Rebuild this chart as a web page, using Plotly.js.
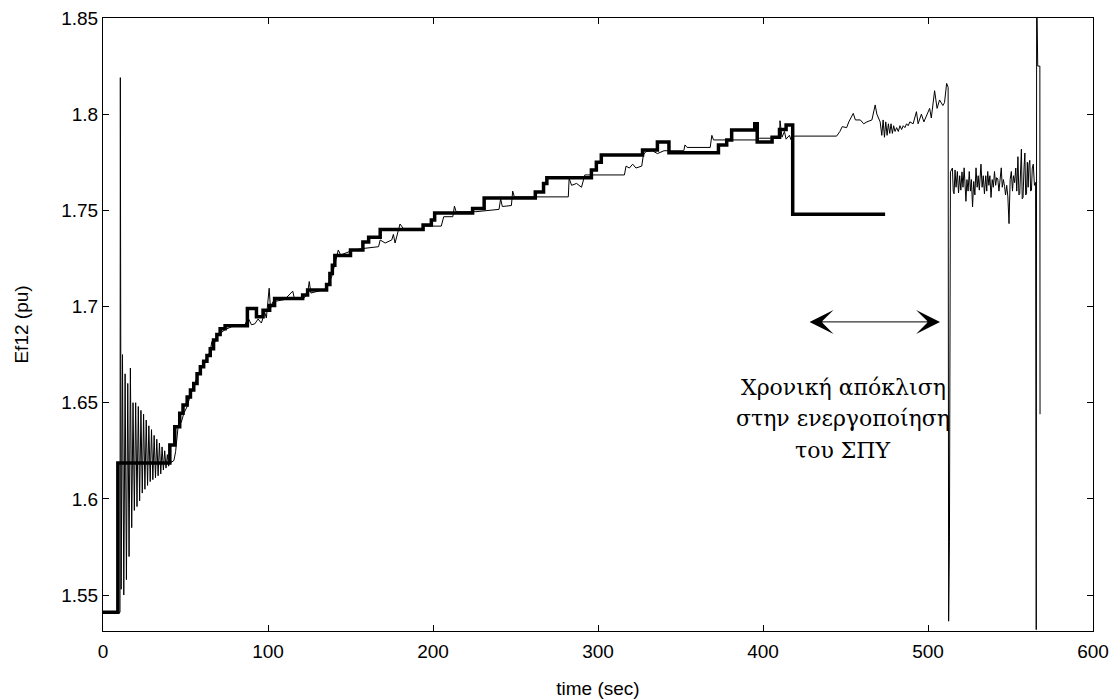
<!DOCTYPE html>
<html>
<head>
<meta charset="utf-8">
<script src="https://cdn.plot.ly/plotly-3.0.1.min.js"></script>
<style>html,body{margin:0;padding:0;background:#fff;}#chart{width:1115px;height:700px;}</style>
</head>
<body>
<div id="chart"></div>
<script>
// Thick line: step breakpoints (time, Ef12)
var refTime = [0, 9, 40.5, 43.5, 46.5, 48.5, 51, 53, 55, 57, 59, 61, 63, 65, 67, 69, 71, 74, 87.5, 93, 97, 101, 104, 121, 124, 135.5, 137.5, 139, 140.5, 150, 157.5, 161, 168, 194, 199, 201, 224, 231, 262, 267, 269, 296, 299, 302, 327, 336, 343, 373, 378, 381, 395, 396.5, 405.5, 410, 414, 418, 474];
var refValue = [1.541, 1.6186, 1.628, 1.6375, 1.6445, 1.6488, 1.653, 1.6566, 1.660, 1.665, 1.6687, 1.6716, 1.6745, 1.678, 1.6826, 1.6855, 1.6885, 1.690, 1.699, 1.6947, 1.698, 1.7005, 1.7042, 1.706, 1.7086, 1.7115, 1.7172, 1.7215, 1.7265, 1.7294, 1.7335, 1.736, 1.740, 1.7424, 1.745, 1.7486, 1.751, 1.7564, 1.7595, 1.764, 1.767, 1.771, 1.775, 1.7788, 1.7814, 1.7855, 1.780, 1.784, 1.7866, 1.7918, 1.795, 1.7855, 1.788, 1.792, 1.7944, 1.748, 1.748];

// Thin line: simulated response (time, Ef12)
var simTime = [0, 10.3, 10.5, 10.7, 11.0, 11.8, 12.6, 13.4, 14.2, 15.0, 15.8, 16.6, 17.4, 18.2, 19.0, 19.8, 20.6, 21.4, 22.2, 23.0, 23.8, 24.6, 25.4, 26.2, 27.0, 27.8, 28.6, 29.4, 30.2, 31.0, 31.8, 32.6, 33.4, 34.2, 35.0, 35.8, 36.6, 37.4, 38.2, 39.0, 39.8, 40.6, 41.5,
  43, 44, 45.5, 47.5, 49, 51, 53, 55, 57, 59, 61, 63, 65, 66, 67, 69, 71, 74, 78, 86, 88, 90, 92, 94, 96, 98, 99, 100.7, 101.5, 103, 110, 115, 116, 122, 124, 125, 126, 135, 138.6, 140.6, 142.6, 144, 150, 152, 158, 167, 168, 171, 175, 176, 177, 180, 182, 194, 195, 205, 206.5, 212, 213, 214, 226, 240, 241, 242, 247.5, 248.3, 249.3, 282, 282.5, 284, 287, 290, 292, 316, 317, 319, 321, 323, 326.5, 327.5, 329, 333, 336, 340, 352, 352.7, 354, 368, 369, 370, 396, 398, 410, 410.3, 411.5, 413, 414, 416, 417, 419, 444.6, 446.6, 448, 450.7, 452, 454.7, 456, 459, 461, 463, 466, 468, 469, 471,
  472, 472.8, 473.6, 474.4, 475.2, 476, 476.8, 477.6, 478.4, 479.2, 480, 481, 482, 483, 484, 485, 486, 487, 488, 489, 491, 493, 494, 496, 497.5, 499, 501, 502, 504, 505.5, 507, 509, 510, 511.3, 512.2, 512.5, 513.0, 513.6,
  514.8, 515.3, 515.8, 516.4, 517.0, 517.8, 518.5, 519.2, 519.9, 520.6, 521.2, 521.9, 522.5, 523.0, 523.6, 524.3, 525.0, 525.7, 526.3, 527.0, 527.7, 528.4, 529.1, 529.8, 530.4, 531.1, 532.1, 532.8, 533.5, 534.2, 535.0, 535.6, 536.2, 536.9, 537.5, 538.2, 538.9, 539.6, 540.3, 541.0, 541.6, 542.3, 543.0, 543.7, 544.4, 545.0, 545.7, 546.4, 547.0, 547.7, 548.4, 549.1, 549.8, 550.5, 551.2, 551.8, 552.5, 553.2, 553.8, 554.5, 555.1, 555.6, 556.1, 556.6, 557.1, 557.6, 558.2, 558.7, 559.2, 559.7, 560.2, 560.7, 561.2, 561.7, 562.2, 562.7, 563.2, 563.8, 564.5, 565.2,
  565.6, 565.85, 566.5, 567.8, 567.9];
var simValue = [1.541, 1.541, 1.819, 1.680, 1.553, 1.675, 1.550, 1.665, 1.558, 1.660, 1.570, 1.668, 1.585, 1.650, 1.594, 1.650, 1.596, 1.648, 1.599, 1.646, 1.603, 1.644, 1.605, 1.641, 1.607, 1.638, 1.609, 1.636, 1.610, 1.633, 1.611, 1.631, 1.612, 1.629, 1.613, 1.627, 1.615, 1.625, 1.616, 1.623, 1.617, 1.621, 1.619,
  1.620, 1.6245, 1.6375, 1.640, 1.6445, 1.648, 1.654, 1.658, 1.6635, 1.667, 1.670, 1.673, 1.677, 1.6818, 1.680, 1.684, 1.686, 1.688, 1.6895, 1.6905, 1.694, 1.6905, 1.691, 1.6935, 1.6914, 1.697, 1.694, 1.7095, 1.699, 1.7025, 1.7036, 1.708, 1.704, 1.7045, 1.7068, 1.713, 1.707, 1.709, 1.7155, 1.7224, 1.7294, 1.7268, 1.729, 1.7294, 1.7302, 1.7311, 1.7346, 1.733, 1.7346, 1.7375, 1.733, 1.7429, 1.7406, 1.7406, 1.7418, 1.7418, 1.7467, 1.7467, 1.7522, 1.7493, 1.7493, 1.7505, 1.756, 1.752, 1.7525, 1.760, 1.757, 1.757, 1.7667, 1.763, 1.764, 1.762, 1.7684, 1.7684, 1.773, 1.772, 1.774, 1.772, 1.773, 1.7788, 1.7805, 1.781, 1.7795, 1.781, 1.781, 1.784, 1.7827, 1.7827, 1.789, 1.7866, 1.7866, 1.7875, 1.7875, 1.7966, 1.788, 1.791, 1.787, 1.789, 1.7866, 1.7886, 1.7886, 1.791, 1.7935, 1.793, 1.796, 1.8004, 1.797, 1.797, 1.795, 1.796, 1.797, 1.8048, 1.800, 1.796,
  1.789, 1.797, 1.788, 1.796, 1.789, 1.795, 1.790, 1.795, 1.790, 1.794, 1.791, 1.793, 1.791, 1.794, 1.792, 1.794, 1.793, 1.795, 1.794, 1.796, 1.795, 1.8013, 1.795, 1.800, 1.796, 1.799, 1.803, 1.798, 1.8122, 1.803, 1.8074, 1.8045, 1.806, 1.816, 1.814, 1.5364, 1.578, 1.770,
  1.772, 1.760, 1.7586, 1.771, 1.762, 1.7702, 1.759, 1.768, 1.7605, 1.770, 1.762, 1.7721, 1.760, 1.7547, 1.766, 1.760, 1.7702, 1.760, 1.766, 1.7518, 1.765, 1.758, 1.7721, 1.762, 1.768, 1.7605, 1.7740, 1.762, 1.768, 1.7586, 1.768, 1.760, 1.7702, 1.763, 1.768, 1.7567, 1.766, 1.762, 1.7702, 1.763, 1.767, 1.7663, 1.760, 1.768, 1.7721, 1.762, 1.766, 1.7624, 1.758, 1.763, 1.757, 1.7431, 1.766, 1.7702, 1.760, 1.768, 1.7644, 1.772, 1.760, 1.7779, 1.758, 1.7586, 1.775, 1.7818, 1.756, 1.7567, 1.772, 1.7798, 1.758, 1.7586, 1.775, 1.762, 1.774, 1.7760, 1.760, 1.7605, 1.772, 1.7740, 1.763, 1.7645,
  1.532, 1.87, 1.825, 1.825, 1.644];

var xTicks = [0, 100, 200, 300, 400, 500, 600];
var yTicks = [1.55, 1.6, 1.65, 1.7, 1.75, 1.8, 1.85];
var xLabel = 'time (sec)';
var yLabel = 'Ef12 (pu)';
var noteLines = ['Χρονική απόκλιση', 'στην ενεργοποίηση', 'του ΣΠΥ'];
var noteLineY = [1.6581, 1.642, 1.6254];
var noteX = 448.5;
var arrowSpan = [427.3, 507.3];
var arrowLevel = 1.692;

var traces = [
  {x: simTime, y: simValue, type: 'scatter', mode: 'lines',
   line: {color: '#000', width: 1}, hoverinfo: 'skip'},
  {x: refTime, y: refValue, type: 'scatter', mode: 'lines',
   line: {color: '#000', width: 3.5, shape: 'hv'}, hoverinfo: 'skip'}
];

var axisCommon = {
  showgrid: false, zeroline: false, showline: true, linecolor: '#000', linewidth: 1,
  mirror: 'ticks', ticks: 'inside', ticklen: 6, tickcolor: '#000', tickwidth: 1,
  tickfont: {family: 'Liberation Sans, Arial, sans-serif', size: 19, color: '#000'}
};

var annotations = [
  {x: arrowSpan[1], y: arrowLevel, ax: arrowSpan[0], ay: arrowLevel, xref: 'x', yref: 'y', axref: 'x', ayref: 'y',
   text: '', showarrow: true, arrowside: 'end+start', arrowhead: 3, startarrowhead: 3,
   arrowsize: 4, startarrowsize: 4, arrowwidth: 1, arrowcolor: '#000'}
];
noteLines.forEach(function (s, i) {
  annotations.push({x: noteX, y: noteLineY[i], xref: 'x', yref: 'y', text: s, showarrow: false,
    xanchor: 'center', yanchor: 'middle', align: 'center',
    font: {family: 'DejaVu Serif, serif', size: 22, color: '#000'}});
});

var layout = {
  width: 1115, height: 700,
  margin: {l: 103, r: 22, t: 18, b: 69},
  paper_bgcolor: '#fff', plot_bgcolor: '#fff',
  showlegend: false,
  font: {family: 'Liberation Sans, Arial, sans-serif', color: '#000'},
  xaxis: Object.assign({}, axisCommon, {
    range: [0, 600], tickvals: xTicks, ticktext: xTicks.map(String),
    ticklabelstandoff: 3,
    title: {text: xLabel, font: {size: 19, family: 'Liberation Sans, Arial, sans-serif'}, standoff: 20},
    automargin: false
  }),
  yaxis: Object.assign({}, axisCommon, {
    range: [1.5313, 1.85], tickvals: yTicks, ticktext: yTicks.map(String),
    title: {text: yLabel, font: {size: 19, family: 'Liberation Sans, Arial, sans-serif'}, standoff: 27},
    automargin: false
  }),
  annotations: annotations
};

Plotly.newPlot('chart', traces, layout, {staticPlot: true, displayModeBar: false});
</script>
</body>
</html>
